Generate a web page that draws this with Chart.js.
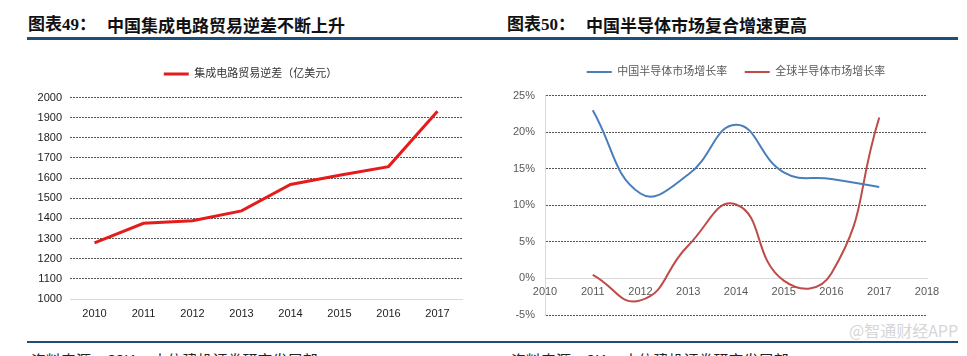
<!DOCTYPE html>
<html>
<head>
<meta charset="utf-8">
<script src="https://cdn.jsdelivr.net/npm/chart.js@4/dist/chart.umd.min.js"></script>
<style>
  html, body { margin: 0; padding: 0; background: #fff; }
  #wrap { position: relative; width: 967px; height: 356px; overflow: hidden; background: #fff; }
  .t { position: absolute; font-weight: bold; font-size: 17px; color: #111; white-space: nowrap; line-height: 17px; }
  .tnum { font-family: "Liberation Serif", "Noto Sans CJK SC", serif; }
  .tcn { font-family: "Noto Sans CJK SC", sans-serif; }
  .rule { position: absolute; background: #1F4E79; }
  .src { position: absolute; font-family: "Noto Sans CJK SC", sans-serif; font-size: 15px; color: #222; white-space: nowrap; line-height: 15px; }
  .wm { position: absolute; font-family: "Noto Sans CJK SC", "Liberation Sans", sans-serif; font-size: 16px; color: #d6d6d6; white-space: nowrap; line-height: 16px; }
  canvas { position: absolute; }
</style>
</head>
<body>
<div id="wrap">
  <div class="t tnum" style="left:28px;top:16px;">图表49：</div>
  <div class="t tcn" style="left:107px;top:16px;">中国集成电路贸易逆差不断上升</div>
  <div class="t tnum" style="left:507px;top:16px;">图表50：</div>
  <div class="t tcn" style="left:586px;top:16px;">中国半导体市场复合增速更高</div>
  <div class="rule" style="left:27px;top:37px;width:931px;height:3px;"></div>
  <div class="rule" style="left:27px;top:341px;width:931px;height:2px;"></div>
  <div class="src" style="left:31px;top:352px;">资料来源：CSIA，中信建投证券研究发展部</div>
  <div class="src" style="left:511px;top:352px;">资料来源：SIA，中信建投证券研究发展部</div>
  <div class="wm" style="left:849px;top:322px;">@智通财经APP</div>
  <canvas id="c1" width="455" height="285" style="left:23px;top:50px;"></canvas>
  <canvas id="c2" width="487" height="286" style="left:480px;top:49px;"></canvas>
</div>
<script>
// ---- Data: chart 1 (IC trade deficit, 100 million USD) ----
const years1 = ['2010', '2011', '2012', '2013', '2014', '2015', '2016', '2017'];
const deficit = [1278, 1376, 1388, 1437, 1568, 1614, 1657, 1932];
const deficitLabel = '集成电路贸易逆差（亿美元）';

// ---- Data: chart 2 (semiconductor market growth, %) ----
const years2 = [2011, 2012, 2013, 2014, 2015, 2016, 2017];
const chinaGrowth = [23.0, 11.6, 14.2, 21.0, 14.5, 13.6, 12.5];
const globalGrowth = [0.5, -3.0, 4.5, 10.1, -0.3, 0.7, 22.0];
const chinaLabel = '中国半导体市场增长率';
const globalLabel = '全球半导体市场增长率';

const FONT = "'Liberation Sans', 'Noto Sans CJK SC', sans-serif";
const GRID = '#555555';
const AXIS = '#d9d9d9';

function lineLegendLabels(chart) {
  const items = Chart.defaults.plugins.legend.labels.generateLabels(chart);
  items.forEach(it => { it.fillStyle = it.strokeStyle; it.lineWidth = 0; });
  return items;
}

function spacer(pos, size) {
  return {
    type: 'linear',
    position: pos,
    display: true,
    grid: { display: false, drawTicks: false },
    ticks: { display: false },
    border: { display: false },
    afterFit: s => { if (pos === 'top' || pos === 'bottom') { s.height = size; } else { s.width = size; } }
  };
}

new Chart(document.getElementById('c1'), {
  type: 'line',
  data: {
    labels: years1,
    datasets: [{
      label: deficitLabel,
      data: deficit,
      borderColor: '#e51c1c',
      backgroundColor: '#e51c1c',
      borderWidth: 3,
      pointRadius: 0,
      tension: 0,
      xAxisID: 'x',
      yAxisID: 'y'
    }]
  },
  options: {
    responsive: false,
    animation: false,
    layout: { padding: 0 },
    plugins: {
      tooltip: { enabled: false },
      legend: {
        position: 'top',
        fullSize: true,
        labels: {
          font: { family: FONT, size: 11 },
          color: '#333',
          boxWidth: 25,
          boxHeight: 3,
          padding: 18.5,
          generateLabels: lineLegendLabels
        }
      }
    },
    scales: {
      x: {
        type: 'category',
        offset: true,
        grid: { display: false, drawTicks: false },
        border: { display: true, color: AXIS, width: 1 },
        ticks: { font: { family: FONT, size: 11 }, color: '#222', padding: 8, maxRotation: 0 },
        afterFit: s => { s.height = 36; }
      },
      xTop: spacer('top', 8),
      y: {
        min: 1000, max: 2000,
        ticks: {
          stepSize: 100,
          font: { family: FONT, size: 11 },
          color: '#222',
          padding: 8,
          callback: v => String(v)
        },
        grid: {
          drawTicks: false,
          color: c => (c.tick && c.tick.value === 1000) ? 'rgba(0,0,0,0)' : GRID,
          lineWidth: 1
        },
        border: { display: false, dash: [2, 1] },
        afterFit: s => { s.width = 47; }
      },
      yR: spacer('right', 16)
    }
  }
});

new Chart(document.getElementById('c2'), {
  type: 'scatter',
  data: {
    datasets: [
      {
        label: chinaLabel,
        data: years2.map((x, i) => ({ x: x, y: chinaGrowth[i] })),
        showLine: true,
        borderColor: '#4a7ebb',
        backgroundColor: '#4a7ebb',
        borderWidth: 2,
        pointRadius: 0,
        tension: 0.45,
        xAxisID: 'x',
        yAxisID: 'y'
      },
      {
        label: globalLabel,
        data: years2.map((x, i) => ({ x: x, y: globalGrowth[i] })),
        showLine: true,
        borderColor: '#be4b48',
        backgroundColor: '#be4b48',
        borderWidth: 2,
        pointRadius: 0,
        tension: 0.5,
        xAxisID: 'x',
        yAxisID: 'y'
      }
    ]
  },
  options: {
    responsive: false,
    animation: false,
    layout: { padding: { left: 0, right: 40, top: 0, bottom: 20 } },
    plugins: {
      tooltip: { enabled: false },
      legend: {
        position: 'top',
        fullSize: false,
        labels: {
          font: { family: FONT, size: 11 },
          color: '#595959',
          boxWidth: 25,
          boxHeight: 2,
          padding: 17.5,
          generateLabels: lineLegendLabels
        }
      }
    },
    scales: {
      x: {
        type: 'linear',
        position: { y: 0 },
        min: 2010, max: 2018,
        grid: { display: false, drawTicks: false },
        border: { display: true, color: AXIS, width: 1 },
        ticks: {
          stepSize: 1,
          font: { family: FONT, size: 11 },
          color: '#595959',
          padding: 7,
          maxRotation: 0,
          callback: v => String(v)
        }
      },
      xTop: spacer('top', 8),
      y: {
        min: -5, max: 25,
        ticks: {
          stepSize: 5,
          font: { family: FONT, size: 11 },
          color: '#595959',
          padding: 10,
          callback: v => v + '%'
        },
        grid: {
          drawTicks: false,
          color: c => (c.tick && c.tick.value === 0) ? 'rgba(0,0,0,0)' : GRID,
          lineWidth: 1
        },
        border: { display: true, color: AXIS, width: 1, dash: [2, 1] },
        afterFit: s => { s.width = 65; }
      }
    }
  }
});
</script>
</body>
</html>
